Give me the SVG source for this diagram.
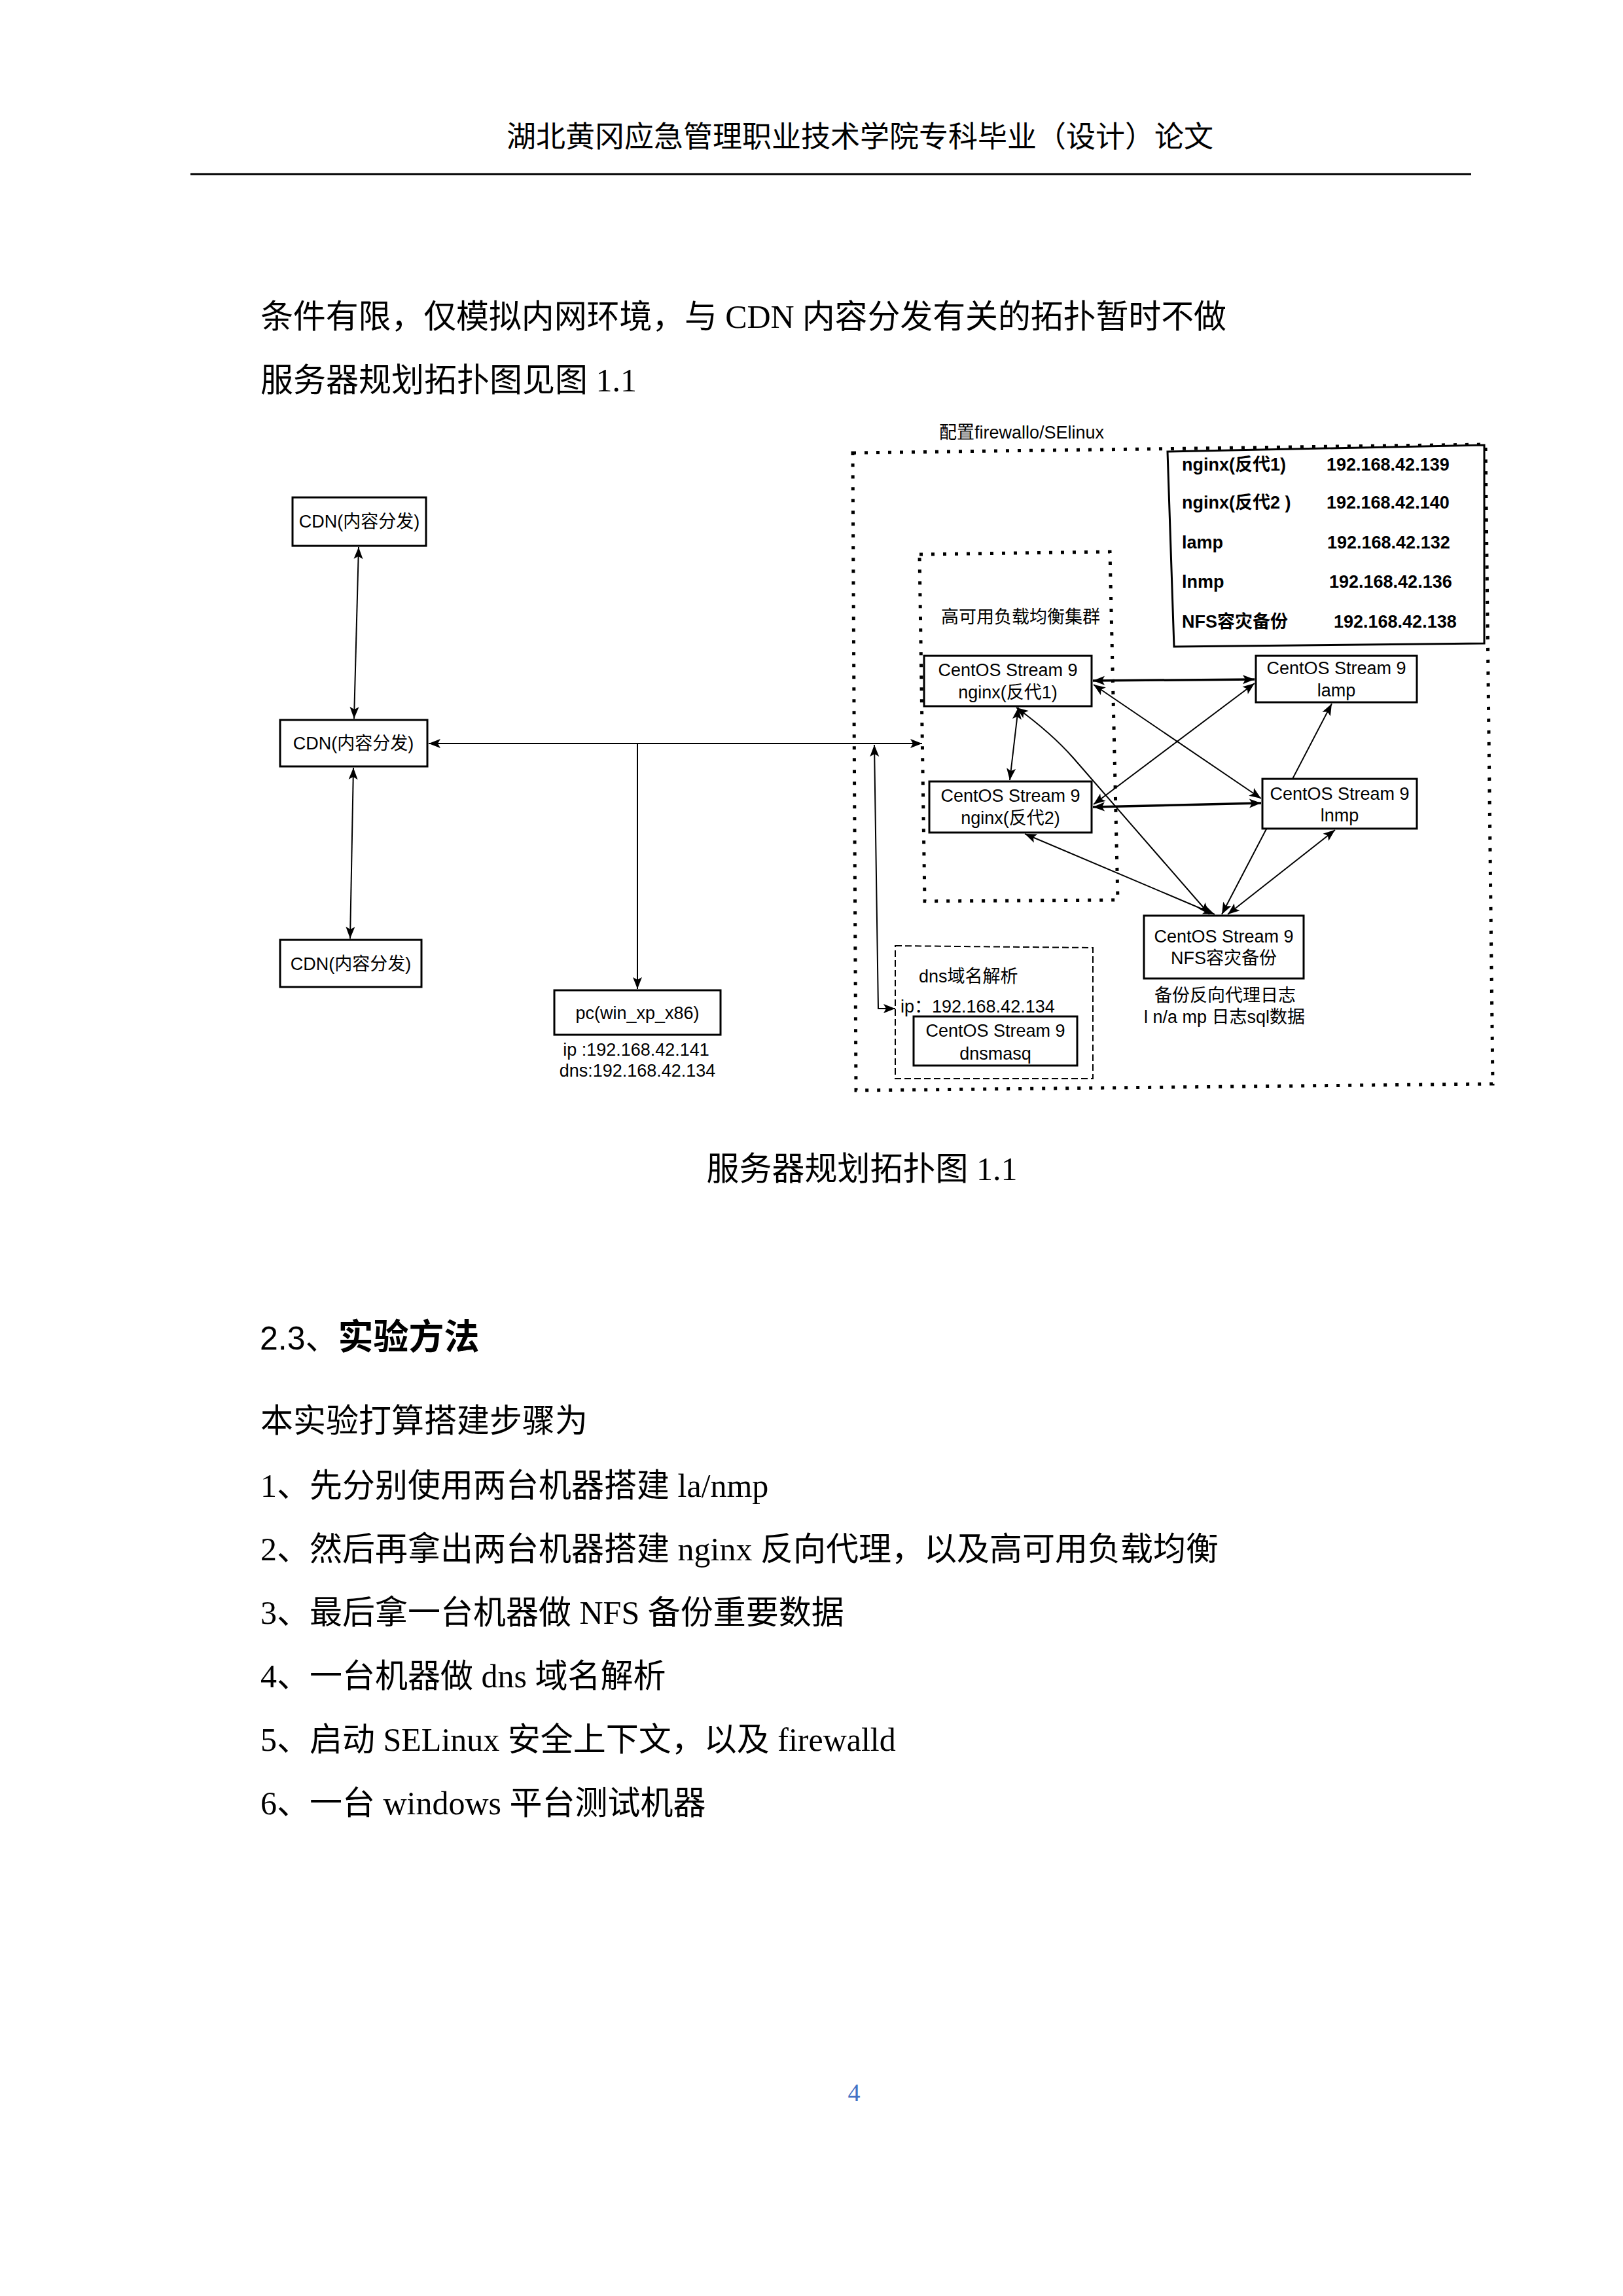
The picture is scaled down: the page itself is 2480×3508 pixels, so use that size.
<svg xmlns="http://www.w3.org/2000/svg" width="2480" height="3508" viewBox="0 0 2480 3508">
<style>
.d{font-family:"Liberation Sans","Noto Sans CJK SC",sans-serif;font-size:27px;fill:#000}
.db{font-family:"Liberation Sans","Noto Sans CJK SC",sans-serif;font-size:27px;font-weight:bold;fill:#000}
.b{font-family:"Liberation Serif","Noto Sans CJK SC",serif;font-size:50px;fill:#000}
.box{fill:#fff;stroke:#000;stroke-width:3}
.c{fill:none;stroke:#000;stroke-width:2}
.ct{fill:none;stroke:#000;stroke-width:3.5}
.dot{fill:none;stroke:#000;stroke-width:5;stroke-dasharray:5 13}
.dash{fill:none;stroke:#000;stroke-width:2;stroke-dasharray:10 5}
</style>
<defs>
<marker id="ae" markerUnits="userSpaceOnUse" markerWidth="20" markerHeight="16" refX="18" refY="8" orient="auto" overflow="visible"><path d="M0,1 L18,8 L0,15 L4,8 z" fill="#000"/></marker>
<marker id="as" markerUnits="userSpaceOnUse" markerWidth="20" markerHeight="16" refX="0" refY="8" orient="auto" overflow="visible"><path d="M18,1 L0,8 L18,15 L14,8 z" fill="#000"/></marker>
</defs>
<rect width="2480" height="3508" fill="#fff"/>

<g id="page-header">
<text x="1314" y="225" text-anchor="middle" font-family="'Liberation Serif','Noto Sans CJK SC',serif" font-size="45">湖北黄冈应急管理职业技术学院专科毕业（设计）论文</text>
<line x1="291" y1="266" x2="2248" y2="266" stroke="#000" stroke-width="3"/>
</g>

<g id="body-top">
<text class="b" x="398" y="501" textLength="1476">条件有限，仅模拟内网环境，与 CDN 内容分发有关的拓扑暂时不做</text>
<text class="b" x="398" y="598">服务器规划拓扑图见图 1.1</text>
</g>

<g id="zones">
<path id="zone-firewall" class="dot" d="M1303,692 L2270,679 L2281,1656 L1308,1666 Z"/>
<text class="d" x="1435" y="670" font-size="26">配置firewallo/SElinux</text>
<path id="zone-ha" class="dot" stroke-width="4" d="M1405,847 L1696,843 L1708,1375 L1413,1377 Z"/>
<text class="d" x="1438" y="952">高可用负载均衡集群</text>
<path id="zone-dns" class="dash" d="M1368,1445 L1670,1448 L1670,1648 L1368,1648 Z"/>
<text class="d" x="1404" y="1501">dns域名解析</text>
<text class="d" x="1376" y="1547">ip：192.168.42.134</text>
</g>

<g id="ip-table">
<path d="M1784,690 L2268,680 L2268,983 L1794,988 Z" fill="#fff" stroke="#000" stroke-width="3"/>
<text class="db" x="1806" y="719">nginx(反代1)</text>
<text class="db" x="2027" y="719">192.168.42.139</text>
<text class="db" x="1806" y="777">nginx(反代2 )</text>
<text class="db" x="2027" y="777">192.168.42.140</text>
<text class="db" x="1806" y="838">lamp</text>
<text class="db" x="2028" y="838">192.168.42.132</text>
<text class="db" x="1806" y="898">lnmp</text>
<text class="db" x="2031" y="898">192.168.42.136</text>
<text class="db" x="1806" y="959">NFS容灾备份</text>
<text class="db" x="2038" y="959">192.168.42.138</text>
</g>

<g id="connectors">
<line class="c" x1="548" y1="836" x2="541" y2="1098" marker-start="url(#as)" marker-end="url(#ae)"/>
<line class="c" x1="540" y1="1173" x2="535" y2="1434" marker-start="url(#as)" marker-end="url(#ae)"/>
<line class="c" stroke-width="2.5" x1="655" y1="1136" x2="1409" y2="1136" marker-start="url(#as)" marker-end="url(#ae)"/>
<line class="c" x1="974" y1="1136" x2="974" y2="1511" marker-end="url(#ae)"/>
<path class="c" d="M1336,1138 L1342,1541 L1368,1541" marker-start="url(#as)" marker-end="url(#ae)"/>
<line class="ct" x1="1670" y1="1040" x2="1917" y2="1038" marker-start="url(#as)" marker-end="url(#ae)"/>
<line class="ct" x1="1670" y1="1233" x2="1927" y2="1227" marker-start="url(#as)" marker-end="url(#ae)"/>
<line class="c" x1="1556" y1="1081" x2="1543" y2="1192" marker-start="url(#as)" marker-end="url(#ae)"/>
<line class="c" x1="1671" y1="1046" x2="1927" y2="1220" marker-start="url(#as)" marker-end="url(#ae)"/>
<line class="c" x1="1671" y1="1229" x2="1917" y2="1044" marker-start="url(#as)" marker-end="url(#ae)"/>
<path class="c" d="M1553,1081 C1590,1108 1618,1133 1640,1158 L1848,1397" marker-start="url(#as)" marker-end="url(#ae)"/>
<line class="c" x1="1566" y1="1274" x2="1856" y2="1397" marker-start="url(#as)" marker-end="url(#ae)"/>
<line class="c" x1="2035" y1="1075" x2="1867" y2="1397" marker-start="url(#as)" marker-end="url(#ae)"/>
<line class="c" x1="2040" y1="1268" x2="1876" y2="1397" marker-start="url(#as)" marker-end="url(#ae)"/>
</g>

<g id="node-cdn1">
<rect class="box" x="447" y="760" width="204" height="74"/>
<text class="d" x="549" y="806" text-anchor="middle">CDN(内容分发)</text>
</g>
<g id="node-cdn2">
<rect class="box" x="428" y="1100" width="225" height="71"/>
<text class="d" x="540" y="1145" text-anchor="middle">CDN(内容分发)</text>
</g>
<g id="node-cdn3">
<rect class="box" x="428" y="1436" width="216" height="72"/>
<text class="d" x="536" y="1482" text-anchor="middle">CDN(内容分发)</text>
</g>
<g id="node-pc">
<rect class="box" stroke-width="2.5" x="847" y="1513" width="254" height="68"/>
<text class="d" x="974" y="1557" text-anchor="middle">pc(win_xp_x86)</text>
<text class="d" x="972" y="1613" text-anchor="middle">ip :192.168.42.141</text>
<text class="d" x="974" y="1645" text-anchor="middle">dns:192.168.42.134</text>
</g>
<g id="node-nginx1">
<rect class="box" x="1412" y="1002" width="256" height="77"/>
<text class="d" x="1540" y="1033" text-anchor="middle">CentOS Stream 9</text>
<text class="d" x="1540" y="1067" text-anchor="middle">nginx(反代1)</text>
</g>
<g id="node-nginx2">
<rect class="box" x="1420" y="1194" width="248" height="78"/>
<text class="d" x="1544" y="1225" text-anchor="middle">CentOS Stream 9</text>
<text class="d" x="1544" y="1259" text-anchor="middle">nginx(反代2)</text>
</g>
<g id="node-lamp">
<rect class="box" x="1919" y="1002" width="246" height="71"/>
<text class="d" x="2042" y="1030" text-anchor="middle">CentOS Stream 9</text>
<text class="d" x="2042" y="1064" text-anchor="middle">lamp</text>
</g>
<g id="node-lnmp">
<rect class="box" x="1929" y="1190" width="236" height="76"/>
<text class="d" x="2047" y="1222" text-anchor="middle">CentOS Stream 9</text>
<text class="d" x="2047" y="1255" text-anchor="middle">lnmp</text>
</g>
<g id="node-nfs">
<rect class="box" x="1748" y="1399" width="244" height="96"/>
<text class="d" x="1870" y="1440" text-anchor="middle">CentOS Stream 9</text>
<text class="d" x="1870" y="1473" text-anchor="middle">NFS容灾备份</text>
<text class="d" x="1872" y="1530" text-anchor="middle">备份反向代理日志</text>
<text class="d" x="1871" y="1563" text-anchor="middle">l n/a mp 日志sql数据</text>
</g>
<g id="node-dnsmasq">
<rect class="box" x="1396" y="1553" width="250" height="75"/>
<text class="d" x="1521" y="1584" text-anchor="middle">CentOS Stream 9</text>
<text class="d" x="1521" y="1619" text-anchor="middle">dnsmasq</text>
</g>

<g id="caption">
<text class="b" x="1317" y="1803" text-anchor="middle">服务器规划拓扑图 1.1</text>
</g>

<g id="body-bottom">
<text x="397" y="2062" font-family="'Liberation Sans','Noto Sans CJK SC',sans-serif" font-size="50">2.3、<tspan font-size="54" font-weight="bold">实验方法</tspan></text>
<text class="b" x="398" y="2188">本实验打算搭建步骤为</text>
<text class="b" x="398" y="2287">1、先分别使用两台机器搭建 la/nmp</text>
<text class="b" x="398" y="2384">2、然后再拿出两台机器搭建 nginx 反向代理，以及高可用负载均衡</text>
<text class="b" x="398" y="2481">3、最后拿一台机器做 NFS 备份重要数据</text>
<text class="b" x="398" y="2578">4、一台机器做 dns 域名解析</text>
<text class="b" x="398" y="2675">5、启动 SELinux 安全上下文，以及 firewalld</text>
<text class="b" x="398" y="2772">6、一台 windows 平台测试机器</text>
</g>

<g id="page-number">
<text x="1305" y="3210" text-anchor="middle" font-family="'Liberation Serif',serif" font-size="38" fill="#4472c4">4</text>
</g>
</svg>
